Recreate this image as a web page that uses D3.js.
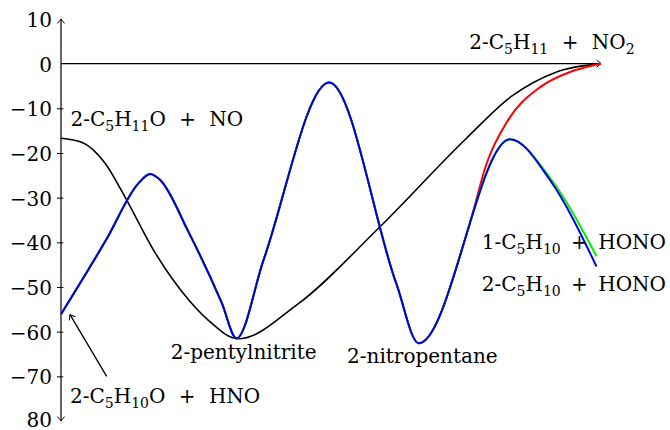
<!DOCTYPE html>
<html>
<head>
<meta charset="utf-8">
<script src="https://cdn.jsdelivr.net/npm/d3@7"></script>
<style>
body { margin: 0; background: #fff; }
text { font-family: "DejaVu Serif", serif; fill: #000; }
</style>
</head>
<body>
<script>
var w = 670;
var h = 430;

// energy axis
var yTicks = [10, 0, -10, -20, -30, -40, -50, -60, -70, -80];
var yTickLabels = ['10', '0', '−10', '−20', '−30', '−40', '−50', '−60', '−70', '80'];

// curves: [reaction coordinate, energy]
var blackPath = [[0, -16.7], [0.46, -17.6], [0.98, -22.3], [1.42, -29.8], [2.09, -42.3],
	[2.83, -52.8], [3.27, -57.4], [3.94, -61.6], [5.24, -54.0], [7.05, -36.9], [9, -16.8],
	[10, -7.4], [11, -1.9], [12, 0]];

// blue, red and green run on top of each other up to the second valley
var sharedPath = [[0, -56.1], [1.0, -39.5], [1.72, -26.8], [1.98, -24.7], [2.2, -26.0],
	[2.83, -37.6], [3.57, -53.5], [3.9, -61.5], [4.5, -44.0], [5.96, -4.2], [7.45, -49.2],
	[7.95, -62.6]];
var blueTail = [[9.98, -16.9], [10.87, -26.1], [11.9, -45.4]];
var greenTail = [[9.98, -16.9], [10.87, -25.6], [11.9, -43.1]];
var redTail = [[9.08, -35.9], [9.46, -22.3], [9.93, -12.7], [10.64, -5.3], [11.38, -1.6], [12, 0]];

// species labels: text, anchor point (reaction coordinate, energy), alignment
var labelText = ['2-C_5H_{11} + NO_2', '2-C_5H_{11}O + NO', '2-C_5H_{10}O + HNO',
	'2-pentylnitrite', '2-nitropentane', '1-C_5H_{10} + HONO', '2-C_5H_{10} + HONO'];
var labelAt = [[10.91, 3.3], [0.21, -14.0], [0.2, -76.0], [4.06, -66.2], [8.03, -67.1],
	[9.35, -41.5], [9.35, -51.0]];
var labelAlign = ['middle', 'start', 'start', 'middle', 'middle', 'start', 'start'];
var plusGap = [7, 7, 7, 0, 0, 4, 4];

// arrow from the HNO label to the start of the blue curve
var arrowFrom = [1.015, -70.0];
var arrowTo = [0.2, -56.2];

var x = d3.scaleLinear().domain([0, 12]).range([61, 601]);
var y = d3.scaleLinear().domain([-80, 10]).range([421, 19]);

var svg = d3.select('body').append('svg')
	.attr('width', w)
	.attr('height', h);

svg.append('rect').attr('width', w).attr('height', h).attr('fill', '#fff');

svg.append('defs').append('marker')
	.attr('id', 'tip')
	.attr('markerUnits', 'userSpaceOnUse')
	.attr('markerWidth', 12)
	.attr('markerHeight', 12)
	.attr('viewBox', '-6 -6 12 12')
	.attr('refX', 0)
	.attr('refY', 0)
	.attr('orient', 'auto-start-reverse')
	.append('path')
		.attr('d', 'M-4.5,-3.6 Q-1.2,-0.9 0,0 Q-1.2,0.9 -4.5,3.6')
		.attr('fill', 'none')
		.attr('stroke', '#000')
		.attr('stroke-width', 1);

// y axis
var yAxis = svg.append('g')
	.attr('transform', 'translate(' + x(0) + ',0)')
	.call(d3.axisLeft(y)
		.tickValues(yTicks)
		.tickFormat((d, i) => yTickLabels[i])
		.tickSize(4)
		.tickPadding(5));

yAxis.select('.domain').remove();
yAxis.selectAll('.tick line')
	.attr('x1', 2.3)
	.attr('stroke-width', 1)
	.attr('display', (d) => (d === 10 || d === 0 || d === -80) ? 'none' : null);
yAxis.selectAll('.tick text')
	.attr('font-family', '"DejaVu Serif", serif')
	.attr('font-size', 20)
	.attr('dy', (d) => d === -80 ? '0.28em' : '0.38em');

svg.append('line')
	.attr('x1', x(0)).attr('x2', x(0))
	.attr('y1', y(-80)).attr('y2', y(10))
	.attr('stroke', '#000')
	.attr('stroke-width', 1.2)
	.attr('marker-start', 'url(#tip)')
	.attr('marker-end', 'url(#tip)');

// x axis
svg.append('line')
	.attr('x1', x(0)).attr('x2', x(12))
	.attr('y1', y(0)).attr('y2', y(0))
	.attr('stroke', '#000')
	.attr('stroke-width', 1.2)
	.attr('marker-end', 'url(#tip)');

var line = d3.line()
	.x((d) => x(d[0]))
	.y((d) => y(d[1]))
	.curve(d3.curveMonotoneX);

var curves = [
	{ pts: blackPath, color: '#000', width: 1.6 },
	{ pts: sharedPath.concat(redTail), color: '#ff0000', width: 2 },
	{ pts: sharedPath.concat(greenTail), color: '#00ee00', width: 2 },
	{ pts: sharedPath.concat(blueTail), color: '#0000e6', width: 2 }
];

svg.selectAll('path.curve')
	.data(curves)
	.enter().append('path')
		.attr('class', 'curve')
		.attr('d', (d) => line(d.pts))
		.attr('fill', 'none')
		.attr('stroke', (d) => d.color)
		.attr('stroke-width', (d) => d.width)
		.attr('stroke-linejoin', 'round');

svg.append('line')
	.attr('x1', x(arrowFrom[0])).attr('y1', y(arrowFrom[1]))
	.attr('x2', x(arrowTo[0])).attr('y2', y(arrowTo[1]))
	.attr('stroke', '#000')
	.attr('stroke-width', 1.3)
	.attr('marker-end', 'url(#tip)');

// chemical formulas with subscripts
function rich(sel, str, gap) {
	var parts = str.split(/(_\{[^}]*\}|_.)/);
	var low = false;
	parts.forEach((p) => {
		if (!p) return;
		if (p[0] === '_') {
			var s = p[1] === '{' ? p.slice(2, -1) : p.slice(1);
			sel.append('tspan').attr('font-size', 14).attr('dy', 5).text(s);
			low = true;
		} else {
			p.split(' + ').forEach((b, j) => {
				if (j > 0) {
					sel.append('tspan').attr('dx', gap).attr('dy', low ? -5 : 0).text(' + ');
					low = false;
					if (b) sel.append('tspan').attr('dx', gap).text(b);
					return;
				}
				if (!b) return;
				sel.append('tspan').attr('dy', low ? -5 : 0).text(b);
				low = false;
			});
		}
	});
}

labelText.forEach((t, i) => {
	var el = svg.append('text')
		.attr('x', x(labelAt[i][0]))
		.attr('y', y(labelAt[i][1]))
		.attr('font-size', 20)
		.attr('text-anchor', labelAlign[i]);
	rich(el, t, plusGap[i]);
});
</script>
</body>
</html>
